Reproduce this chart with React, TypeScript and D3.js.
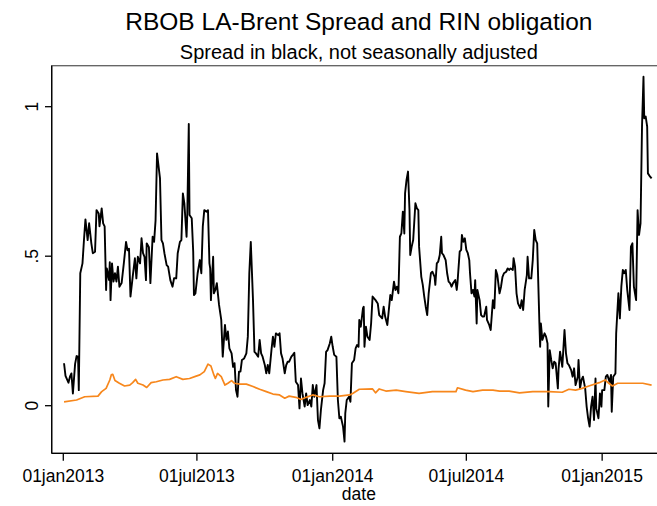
import React from 'react'
import * as d3 from 'd3'

// days since 01jan2013
const spreadDays = [
  1, 3, 7, 9, 11, 13, 16, 18, 20, 21, 23, 26, 28, 30, 33, 35, 38, 40, 43, 45, 48, 49, 52, 54, 56, 58, 59, 62, 63, 64,
  66, 68, 70, 72, 74, 76, 79, 82, 85, 87, 89, 91, 94, 97, 99, 101, 104, 106, 108, 110, 112, 113, 116, 118, 121, 123,
  125, 127, 131, 133, 135, 137, 140, 142, 145, 148, 150, 153, 155, 158, 160, 162, 164, 167, 168, 170, 171, 174, 176,
  177, 179, 182, 185, 187, 189, 191, 194, 196, 198, 199, 200, 203, 204, 206, 208, 211, 214, 216, 219, 221, 223, 225,
  228, 230, 232, 234, 236, 238, 240, 242, 245, 248, 250, 252, 254, 257, 259, 261, 264, 266, 268, 270, 273, 275, 277,
  279, 282, 284, 286, 288, 291, 293, 295, 297, 300, 302, 304, 306, 309, 311, 313, 315, 318, 320, 322, 324, 327, 329,
  331, 334, 336, 338, 340, 343, 345, 347, 349, 352, 354, 356, 358, 361, 363, 365, 367, 370, 372, 374, 376, 379, 381,
  382, 384, 387, 389, 391, 394, 396, 398, 400, 401, 403, 406, 407, 408, 410, 412, 415, 417, 419, 423, 426, 428, 432,
  434, 436, 439, 441, 443, 445, 448, 450, 452, 454, 456, 458, 460, 462, 463, 465, 467, 469, 470, 472, 474, 477, 479,
  481, 482, 485, 487, 489, 491, 493, 495, 498, 500, 503, 504, 506, 508, 510, 512, 513, 515, 518, 520, 522, 524, 526,
  528, 531, 533, 534, 537, 539, 540, 542, 544, 546, 548, 550, 551, 553, 555, 557, 558, 560, 561, 564, 566, 568, 570,
  573, 574, 577, 579, 582, 584, 586, 588, 591, 593, 595, 597, 600, 602, 604, 606, 609, 610, 612, 614, 616, 619, 621,
  623, 625, 628, 629, 631, 634, 636, 638, 640, 642, 645, 646, 647, 649, 652, 654, 656, 657, 659, 661, 663, 665, 667,
  670, 671, 673, 675, 676, 679, 681, 683, 685, 688, 690, 692, 694, 697, 698, 700, 702, 704, 707, 709, 711, 713, 715,
  717, 719, 721, 722, 725, 727, 729, 730, 733, 735, 737, 740, 742, 743, 745, 748, 749, 752, 754, 756, 758, 760, 762,
  764, 767, 769, 771, 773, 776, 778, 780, 782, 784, 786, 787, 789, 791, 792, 795, 797
]
const spreadValues = [
  0.142, 0.1, 0.077, 0.097, 0.108, 0.041, 0.14, 0.166, 0.164, 0.052, 0.443, 0.476, 0.554, 0.623, 0.554, 0.61, 0.543,
  0.51, 0.515, 0.654, 0.643, 0.6, 0.66, 0.61, 0.6, 0.387, 0.459, 0.42, 0.48, 0.353, 0.476, 0.415, 0.443, 0.415, 0.465,
  0.398, 0.41, 0.476, 0.548, 0.52, 0.525, 0.365, 0.431, 0.493, 0.426, 0.498, 0.476, 0.56, 0.51, 0.498, 0.42, 0.543,
  0.53, 0.41, 0.565, 0.548, 0.62, 0.844, 0.76, 0.554, 0.543, 0.51, 0.47, 0.465, 0.42, 0.398, 0.426, 0.426, 0.51, 0.548,
  0.554, 0.71, 0.677, 0.565, 0.643, 0.942, 0.638, 0.627, 0.515, 0.37, 0.376, 0.443, 0.487, 0.443, 0.6, 0.654, 0.649,
  0.654, 0.476, 0.459, 0.353, 0.498, 0.376, 0.387, 0.41, 0.337, 0.287, 0.164, 0.27, 0.22, 0.248, 0.192, 0.175, 0.13,
  0.142, 0.052, 0.03, 0.114, 0.114, 0.153, 0.158, 0.175, 0.231, 0.443, 0.548, 0.353, 0.18, 0.175, 0.164, 0.22, 0.175,
  0.164, 0.136, 0.108, 0.136, 0.108, 0.186, 0.231, 0.197, 0.242, 0.236, 0.242, 0.175, 0.158, 0.108, 0.136, 0.147,
  0.147, 0.164, 0.17, 0.177, 0.08, 0.069, -0.009, 0.091, 0.041, -0.003, 0.041, 0.002, 0.019, -0.003, 0.069, 0.03,
  0.069, -0.048, -0.076, -0.014, 0.052, 0.075, 0.18, 0.186, 0.208, 0.231, 0.197, 0.17, 0.164, 0.019, -0.042, -0.037,
  -0.07, -0.12, -0.026, 0.019, 0.03, 0.013, 0.142, 0.153, 0.192, 0.203, 0.197, 0.287, 0.264, 0.326, 0.331, 0.197,
  0.264, 0.231, 0.22, 0.275, 0.365, 0.353, 0.342, 0.303, 0.292, 0.331, 0.298, 0.27, 0.32, 0.37, 0.353, 0.415, 0.387,
  0.398, 0.376, 0.565, 0.576, 0.649, 0.576, 0.71, 0.755, 0.783, 0.654, 0.504, 0.532, 0.554, 0.677, 0.66, 0.654, 0.532,
  0.431, 0.404, 0.365, 0.331, 0.303, 0.376, 0.443, 0.448, 0.431, 0.404, 0.476, 0.482, 0.504, 0.565, 0.51, 0.504, 0.487,
  0.443, 0.415, 0.41, 0.398, 0.41, 0.42, 0.387, 0.41, 0.515, 0.521, 0.571, 0.548, 0.56, 0.521, 0.51, 0.487, 0.443,
  0.376, 0.387, 0.365, 0.42, 0.275, 0.387, 0.353, 0.303, 0.298, 0.298, 0.331, 0.287, 0.27, 0.253, 0.353, 0.326, 0.454,
  0.437, 0.376, 0.398, 0.431, 0.443, 0.448, 0.459, 0.454, 0.459, 0.454, 0.493, 0.465, 0.376, 0.342, 0.326, 0.353, 0.32,
  0.387, 0.437, 0.498, 0.426, 0.426, 0.487, 0.588, 0.554, 0.543, 0.275, 0.197, 0.275, 0.22, 0.242, 0.231, 0.208,
  -0.003, 0.186, 0.153, 0.125, 0.147, 0.142, 0.058, 0.125, 0.181, 0.147, 0.13, 0.253, 0.175, 0.142, 0.136, 0.119,
  0.097, 0.125, 0.069, 0.097, 0.153, 0.058, 0.086, 0.097, 0.058, -0.003, -0.042, -0.07, -0.003, 0.03, -0.048, 0.091,
  -0.009, -0.042, 0.041, -0.003, 0.052, 0.052, 0.097, 0.103, 0.08, 0.103, -0.02, 0.097, 0.108, 0.242, 0.376, 0.292,
  0.398, 0.454, 0.443, 0.454, 0.387, 0.32, 0.532, 0.543, 0.398, 0.353, 0.654, 0.571, 0.61, 0.933, 1.1, 0.961, 0.967,
  0.933, 0.777, 0.766, 0.76
]

const rinDays = [
  1, 18, 29, 47, 52, 58, 63, 65, 67, 70, 76, 83, 90, 94, 98, 101, 108, 113, 119, 126, 135, 144, 153, 162, 171, 180,
  185, 191, 196, 200, 204, 206, 209, 214, 219, 223, 228, 232, 239, 248, 257, 266, 275, 284, 293, 300, 306, 315, 322,
  329, 338, 347, 361, 374, 388, 392, 401, 419, 423, 428, 437, 451, 464, 482, 500, 518, 532, 534, 545, 555, 568, 582,
  591, 604, 618, 636, 658, 676, 685, 694, 703, 712, 726, 734, 739, 744, 751, 757, 771, 785, 797
]
const rinValues = [
  0.013, 0.019, 0.03, 0.032, 0.047, 0.058, 0.086, 0.103, 0.105, 0.084, 0.075, 0.066, 0.069, 0.077, 0.088, 0.075,
  0.069, 0.061, 0.077, 0.08, 0.086, 0.088, 0.097, 0.088, 0.091, 0.099, 0.103, 0.114, 0.139, 0.133, 0.103, 0.091,
  0.108, 0.097, 0.069, 0.075, 0.084, 0.075, 0.072, 0.072, 0.064, 0.055, 0.047, 0.039, 0.036, 0.025, 0.032, 0.028,
  0.021, 0.028, 0.036, 0.03, 0.032, 0.032, 0.036, 0.041, 0.055, 0.056, 0.043, 0.056, 0.049, 0.052, 0.047, 0.041,
  0.047, 0.047, 0.047, 0.06, 0.052, 0.047, 0.052, 0.052, 0.049, 0.049, 0.043, 0.047, 0.047, 0.045, 0.055, 0.052,
  0.058, 0.066, 0.077, 0.086, 0.075, 0.066, 0.075, 0.075, 0.075, 0.075, 0.069
]

const xTickDates = ['2013-01-01', '2013-07-01', '2014-01-01', '2014-07-01', '2015-01-01']
const yTicks = [0, 0.5, 1]

const title = 'RBOB LA-Brent Spread and RIN obligation'
const subtitle = 'Spread in black, not seasonally adjusted'
const xTitle = 'date'

const W = 657
const H = 506
const FONT = '"Liberation Sans", Arial, Helvetica, sans-serif'

const start = new Date(Date.UTC(2013, 0, 1))
const toDate = (d: number) => d3.utcDay.offset(start, d)

export default function App() {
  const plot = { left: 51.7, right: 666, top: 65.7, bottom: 453.3 }

  const x = d3.scaleUtc()
    .domain([new Date(Date.UTC(2012, 11, 16, 7)), new Date(Date.UTC(2015, 2, 28, 12))])
    .range([plot.left, plot.right])

  const y = d3.scaleLinear()
    .domain([-0.1592, 1.1371])
    .range([plot.bottom, plot.top])

  const spread = spreadDays.map((d, i) => ({ date: toDate(d), value: spreadValues[i] }))
  const rin = rinDays.map((d, i) => ({ date: toDate(d), value: rinValues[i] }))

  const line = d3.line<{ date: Date; value: number }>()
    .x(d => x(d.date))
    .y(d => y(d.value))

  const fmtDate = (s: string) => d3.utcFormat('%d%b%Y')(new Date(s + 'T00:00:00Z')).toLowerCase()
  const fmtY = (v: number) => (v === 0.5 ? '.5' : String(v))
  const cx = (plot.left + plot.right) / 2

  return (
    <div style={{ position: 'fixed', left: 0, top: 0, width: W, height: H, background: '#fff' }}>
      <svg width={W} height={H} style={{ display: 'block', fontFamily: FONT }}>
        <rect x={0} y={0} width={W} height={H} fill="#fff" />

        <text x={cx} y={29.5} textAnchor="middle" fontSize={24.5} fill="#000">{title}</text>
        <text x={cx} y={59.3} textAnchor="middle" fontSize={20} fill="#000">{subtitle}</text>

        {/* plot region outline */}
        <rect x={plot.left} y={plot.top} width={plot.right - plot.left} height={plot.bottom - plot.top}
          fill="none" stroke="#606060" strokeWidth={1.3} />

        <clipPath id="plotclip">
          <rect x={plot.left} y={plot.top} width={plot.right - plot.left} height={plot.bottom - plot.top} />
        </clipPath>

        <g clipPath="url(#plotclip)">
          <path d={line(spread) || ''} fill="none" stroke="#000" strokeWidth={1.9} strokeLinejoin="round" />
          <path d={line(rin) || ''} fill="none" stroke="#f7871c" strokeWidth={1.7} strokeLinejoin="round" />
        </g>

        {/* y axis */}
        <line x1={plot.left} x2={plot.left} y1={plot.top} y2={plot.bottom} stroke="#000" strokeWidth={1.3} />
        {yTicks.map(t => (
          <g key={t}>
            <line x1={plot.left - 6.7} x2={plot.left} y1={y(t)} y2={y(t)} stroke="#000" strokeWidth={1.3} />
            <text transform={`translate(38.3,${y(t)}) rotate(-90)`} textAnchor="middle" fontSize={17.5} fill="#000">
              {fmtY(t)}
            </text>
          </g>
        ))}

        {/* x axis */}
        <line x1={plot.left} x2={plot.right} y1={plot.bottom} y2={plot.bottom} stroke="#000" strokeWidth={1.3} />
        {xTickDates.map(s => {
          const px = x(new Date(s + 'T00:00:00Z'))
          return (
            <g key={s}>
              <line x1={px} x2={px} y1={plot.bottom} y2={plot.bottom + 7.5} stroke="#000" strokeWidth={1.3} />
              <text x={px} y={482.3} textAnchor="middle" fontSize={17.5} fill="#000">{fmtDate(s)}</text>
            </g>
          )
        })}
        <text x={cx} y={500} textAnchor="middle" fontSize={17.5} fill="#000">{xTitle}</text>
      </svg>
    </div>
  )
}
